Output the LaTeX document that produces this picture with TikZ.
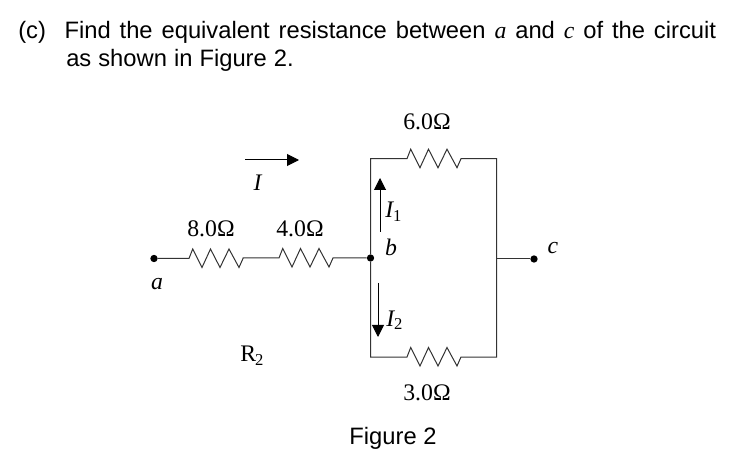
\documentclass[tikz,border=0pt]{standalone}
\usepackage{fontspec}
\setmainfont{Liberation Serif}
\newfontfamily\arialf{Liberation Sans}
\usetikzlibrary{arrows.meta}
\newcommand{\zigpath}{++(3.7,-9.5) -- ++(9.3,18.5) -- ++(8.5,-18.5) -- ++(9.5,18.5) -- ++(9,-18.5) -- ++(10,18.5) -- ++(4,-9)}
\newcommand{\subs}[1]{\kern-0.8pt\textsubscript{#1}}
\tikzset{
  x=0.75pt,y=-0.75pt,
  wire/.style={line width=0.75pt,draw=black!80},
  sans/.style={font=\fontsize{17.8}{21}\selectfont\arialf,inner sep=0pt,text=black},
  serifl/.style={font=\fontsize{17.8}{21}\selectfont,inner sep=0pt,text=black},
  dot/.style={circle,fill=black,inner sep=0pt,minimum size=5.5pt},
  curarrow/.style={line width=0.75pt,draw=black,-{Triangle[length=9pt,width=9pt]}}
}
\begin{document}
\begin{tikzpicture}
\useasboundingbox[fill=white] (0,0) rectangle (739,463);
% question text
\node[sans,anchor=base west] (t1) at (18,39) {\spaceskip=6.7pt (c)\hspace{14pt}Find the equivalent resistance between \textit{\rmfamily a} and \textit{\rmfamily c} of the circuit};
\node[sans,anchor=base west] (t2) at (66,67) {\spaceskip=5.3pt as shown in Figure 2.};
% terminals
\node[dot] (a) at (154,258.5) {};
\node[dot] (b) at (370.5,258) {};
\node[dot] (c) at (534,259) {};
\coordinate (r1l) at (189,258.5);
\coordinate (r1r) at (243,258);
\coordinate (r2l) at (279,258);
\coordinate (r2r) at (333,258);
\coordinate (tl) at (370.5,158.7);
\coordinate (tr) at (496.7,158.7);
\coordinate (r3l) at (407,158.7);
\coordinate (r3r) at (461,158.7);
\coordinate (bl) at (370.5,357);
\coordinate (br) at (496.7,357);
\coordinate (r4l) at (407,357);
\coordinate (r4r) at (461,357);
\coordinate (rm) at (496.7,259);
% wires
\draw[wire] (a) -- (r1l) -- \zigpath -- (r1r) -- (r2l) -- \zigpath -- (r2r) -- (b);
\draw[wire] (b) -- (tl) -- (r3l) -- \zigpath -- (r3r) -- (tr) -- (rm);
\draw[wire] (b) -- (bl) -- (r4l) -- \zigpath -- (r4r) -- (br) -- (rm);
\draw[wire] (rm) -- (c);
% current arrows
\coordinate (i0) at (245,160);
\coordinate (i1) at (299,160);
\coordinate (i10) at (380,232);
\coordinate (i11) at (380,178);
\coordinate (i20) at (378,283);
\coordinate (i21) at (378,337);
\draw[curarrow] (i0) -- (i1);
\draw[curarrow] (i10) -- (i11);
\draw[curarrow] (i20) -- (i21);
% labels
\node[serifl] (l6) at (427,122) {6.0Ω};
\node[serifl] (l3) at (427,393) {3.0Ω};
\node[serifl] (l8) at (211,229) {8.0Ω};
\node[serifl] (l4) at (300,229) {4.0Ω};
\node[serifl] (la) at (157,284) {\textit{a}};
\node[serifl] (lb) at (391,247) {\textit{b}};
\node[serifl] (lc) at (553,248) {\textit{c}};
\node[serifl] (lI) at (258,183) {\textit{I}};
\node[serifl,anchor=base west] (lI1) at (385,218) {\textit{I}\subs{1}};
\node[serifl,anchor=base west] (lI2) at (386,326.5) {\textit{I}\subs{2}};
\node[serifl,anchor=base west] (lR) at (240,362) {R\subs{2}};
\node[sans] (fig) at (393,438.5) {Figure 2};
\end{tikzpicture}
\end{document}
